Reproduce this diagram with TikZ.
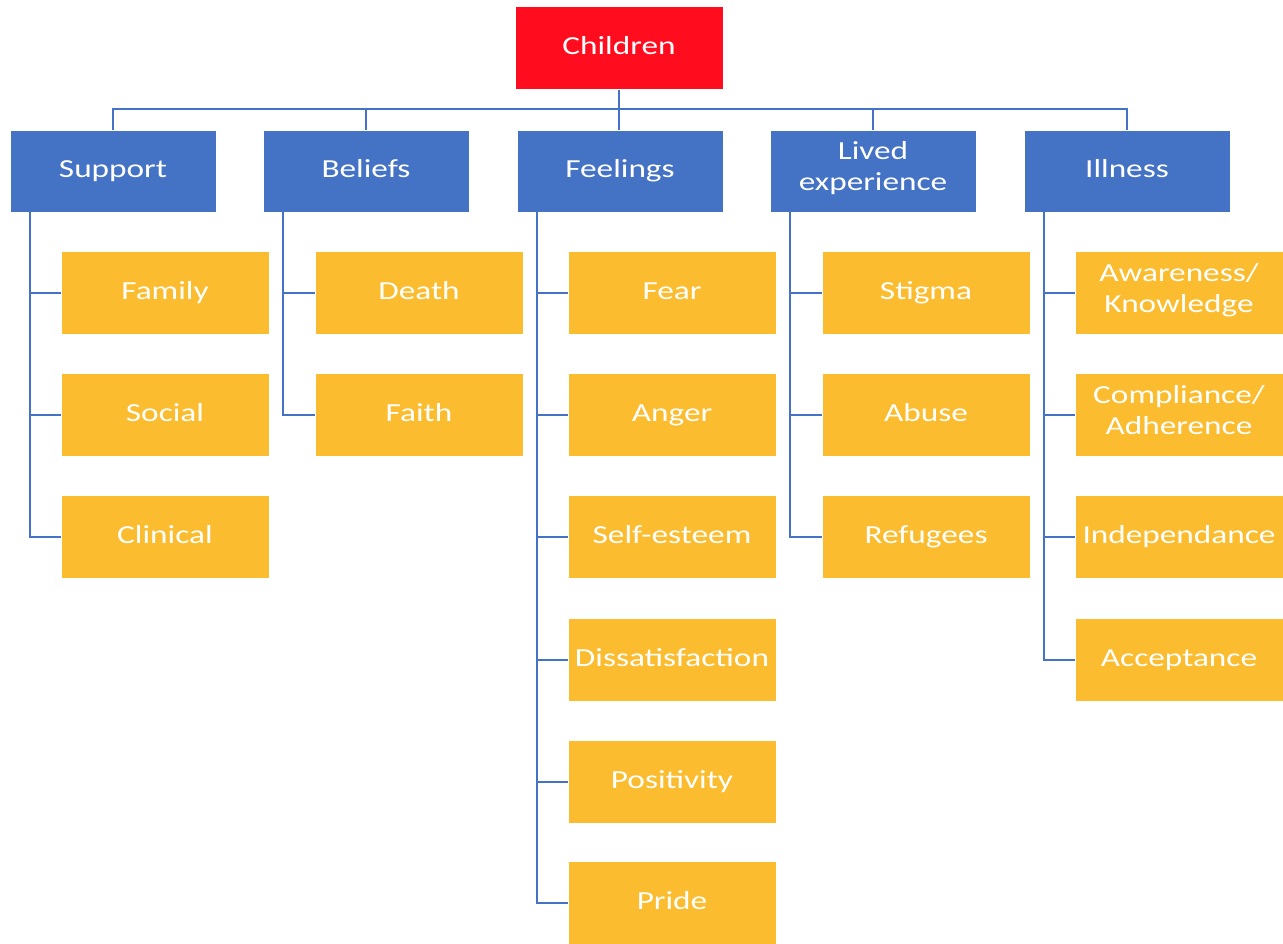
\documentclass[tikz,border=0pt]{standalone}
\usepackage{fontspec}
\setmainfont{Carlito}[FakeStretch=1.28]
\definecolor{topred}{HTML}{FF0D1E}
\definecolor{midblue}{HTML}{4472C4}
\definecolor{leafgold}{HTML}{FBBD2F}
\begin{document}
\begin{tikzpicture}[x=1pt,y=-1pt,
	box/.style={draw=white,line width=0.6pt,text=white,align=center,inner sep=0pt,
		font=\fontsize{26}{31}\selectfont,execute at begin node=\strut},
	topbox/.style={box,fill=topred,minimum width=208pt,minimum height=83pt},
	midbox/.style={box,fill=midblue,minimum width=206pt,minimum height=82pt},
	leafbox/.style={box,fill=leafgold,minimum width=208pt,minimum height=83pt},
	link/.style={draw=midblue,line width=1.6pt}]
		\useasboundingbox (0,0) rectangle (1283,943);
		% root and first level
		\node[topbox] (ch) at (619,48) {Children};
		\node[midbox] (sup) at (113,171) {Support};
		\node[midbox] (bel) at (366,171) {Beliefs};
		\node[midbox] (fee) at (620,171) {Feelings};
		\node[midbox] (liv) at (873,171) {Lived\\experience\strut};
		\node[midbox] (ill) at (1127,171) {Illness};
		% second level
		\node[leafbox] (fam) at (165,293) {Family};
		\node[leafbox] (soc) at (165,415) {Social};
		\node[leafbox] (cli) at (165,537) {Clinical};
		\node[leafbox] (dea) at (419,293) {Death};
		\node[leafbox] (fai) at (419,415) {Faith};
		\node[leafbox] (fea) at (672,293) {Fear};
		\node[leafbox] (ang) at (672,415) {Anger};
		\node[leafbox] (sel) at (672,537) {Self-esteem};
		\node[leafbox] (dis) at (672,660) {Dissatisfaction};
		\node[leafbox] (pos) at (672,782) {Positivity};
		\node[leafbox] (pri) at (672,903) {Pride};
		\node[leafbox] (sti) at (926,293) {Stigma};
		\node[leafbox] (abu) at (926,415) {Abuse};
		\node[leafbox] (ref) at (926,537) {Refugees};
		\node[leafbox] (awa) at (1179,293) {Awareness/\\Knowledge\strut};
		\node[leafbox] (com) at (1179,415) {Compliance/\\Adherence\strut};
		\node[leafbox] (ind) at (1179,537) {Independance};
		\node[leafbox] (acc) at (1179,660) {Acceptance};
		% connectors
		\draw[link] (ch.south) -- (ch.south |- fee.north);
		\draw[link] (sup.north) -- ++(0,-21) -| (ill.north);
		\draw[link] (bel.north) -- ++(0,-21) (liv.north) -- ++(0,-21);
		\draw[link] ([xshift=20pt]sup.south west) |- (fam.west) ([xshift=20pt]sup.south west) |- (soc.west)
			([xshift=20pt]sup.south west) |- (cli.west);
		\draw[link] ([xshift=20pt]bel.south west) |- (dea.west) ([xshift=20pt]bel.south west) |- (fai.west);
		\draw[link] ([xshift=20pt]fee.south west) |- (fea.west) ([xshift=20pt]fee.south west) |- (ang.west)
			([xshift=20pt]fee.south west) |- (sel.west) ([xshift=20pt]fee.south west) |- (dis.west)
			([xshift=20pt]fee.south west) |- (pos.west) ([xshift=20pt]fee.south west) |- (pri.west);
		\draw[link] ([xshift=20pt]liv.south west) |- (sti.west) ([xshift=20pt]liv.south west) |- (abu.west)
			([xshift=20pt]liv.south west) |- (ref.west);
		\draw[link] ([xshift=20pt]ill.south west) |- (awa.west) ([xshift=20pt]ill.south west) |- (com.west)
			([xshift=20pt]ill.south west) |- (ind.west) ([xshift=20pt]ill.south west) |- (acc.west);
\end{tikzpicture}
\end{document}
